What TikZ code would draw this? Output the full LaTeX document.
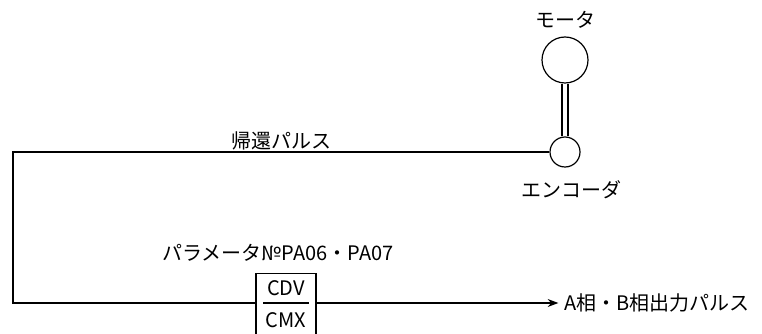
\documentclass[tikz,border=0pt]{standalone}
\usepackage{fontspec}
\setmainfont{Noto Sans CJK JP}
\usetikzlibrary{arrows.meta, positioning}

\begin{document}
\begin{tikzpicture}[x=0.75pt, y=-0.75pt, line width=0.9pt,
        font=\fontsize{15}{17}\selectfont,
        wheel/.style={draw, circle, inner sep=0pt},
        caption/.style={inner sep=1pt}]
            \useasboundingbox (0,0) rectangle (762,334);

            % Motor and encoder
            \node[wheel, minimum size=34.5pt] (motor) at (565,60) {};
            \node[wheel, minimum size=22.5pt] (encoder) at (565,152) {};
            \draw ([xshift=-2.25pt]motor.south) -- ([xshift=-2.25pt]encoder.north);
            \draw ([xshift=2.25pt]motor.south) -- ([xshift=2.25pt]encoder.north);
            \node[caption] (motorlabel) at (565,20) {モータ};
            \node[caption] (encoderlabel) at (571,190) {エンコーダ};

            % Electronic gear
            \node[draw, minimum width=45pt, minimum height=48pt, anchor=north] (gear) at (286,273) {};
            \node[caption] (cdv) at (286,288) {CDV};
            \node[caption] (cmx) at (286,320) {CMX};
            \draw (263,303) -- (309,303);
            \node[caption] (paramlabel) at (278,253) {パラメータ№PA06・PA07};

            % Pulse lines
            \coordinate (fbcorner) at (13,152);
            \coordinate (outcorner) at (13,303);
            \node[caption, anchor=west, xshift=4pt] (output) at (557,303) {A相・B相出力パルス};
            \node[caption] (fblabel) at (281,141) {帰還パルス};
            \draw (encoder.west) -- (fbcorner) -- (outcorner) -- (gear.west |- outcorner);
            \draw[-{Stealth[length=8pt, width=6pt]}, shorten >=3pt] (gear.east |- outcorner) -- (output.west);
\end{tikzpicture}
\end{document}
